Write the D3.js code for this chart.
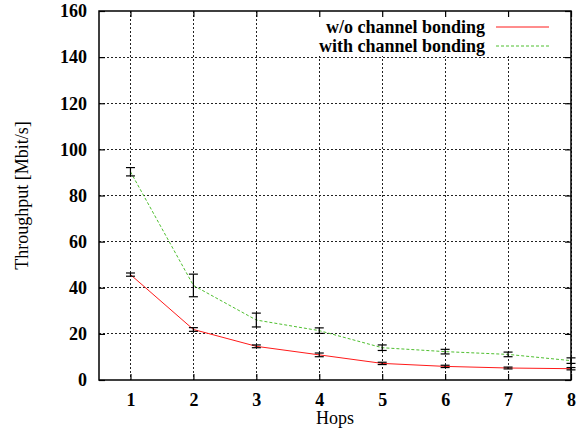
<!DOCTYPE html>
<html>
<head>
<meta charset="utf-8">
<script src="https://cdn.jsdelivr.net/npm/d3@7"></script>
<style>
  html, body { margin: 0; padding: 0; background: #fff; }
  svg { display: block; }
  svg text { font-family: "Liberation Serif", "Times New Roman", Times, "DejaVu Serif", serif; }
</style>
</head>
<body>
<svg id="chart" width="584" height="444"></svg>
<script>
// Throughput vs. number of hops, with and without channel bonding
const hops = [1, 2, 3, 4, 5, 6, 7, 8];
const withoutBonding = [45.7, 21.9, 14.6, 10.9, 7.2, 5.9, 5.2, 4.9];
const withoutBondingErr = [0.7, 0.8, 0.6, 0.8, 0.5, 0.5, 0.4, 0.5];
const withBonding = [90.3, 41.0, 26.0, 21.4, 14.0, 12.3, 11.1, 8.4];
const withBondingErr = [1.8, 4.9, 3.0, 1.2, 1.2, 1.0, 1.0, 1.2];
const xTicks = [1, 2, 3, 4, 5, 6, 7, 8];
const yTicks = [0, 20, 40, 60, 80, 100, 120, 140, 160];
const seriesNames = ["w/o channel bonding", "with channel bonding"];

const svg = d3.select("#chart");
const m = { left: 99, right: 571, top: 11, bottom: 380 };
const font = "\"Liberation Serif\", \"Times New Roman\", Times, serif";

const x = d3.scaleLinear().domain([0.5, 8]).range([m.left, m.right]);
const y = d3.scaleLinear().domain([0, 160]).range([m.bottom, m.top]);

const series = [
  { name: seriesNames[0], vals: withoutBonding, err: withoutBondingErr, color: "#ff1a1a", dash: null },
  { name: seriesNames[1], vals: withBonding, err: withBondingErr, color: "#4fbf2f", dash: "3,2" }
];

// grid
const grid = svg.append("g").attr("stroke", "#222").attr("stroke-width", 1)
  .attr("stroke-dasharray", "2,2").attr("shape-rendering", "crispEdges");
grid.selectAll(".gx").data(xTicks).join("line")
  .attr("x1", d => x(d)).attr("x2", d => x(d))
  .attr("y1", m.top).attr("y2", m.bottom);
grid.selectAll(".gy").data(yTicks.filter(d => d > 0 && d < 160)).join("line")
  .attr("x1", m.left).attr("x2", m.right)
  .attr("y1", d => y(d)).attr("y2", d => y(d));

// key background
svg.append("rect").attr("x", 300).attr("y", m.top + 1)
  .attr("width", m.right - 300 - 1).attr("height", 44).attr("fill", "#fff");

// lines
const line = d3.line().x((d, i) => x(hops[i])).y(d => y(d));
series.forEach(s => {
  svg.append("path").datum(s.vals)
    .attr("d", line).attr("fill", "none")
    .attr("stroke", s.color).attr("stroke-width", 1)
    .attr("stroke-dasharray", s.dash);
});

// error bars
const cap = 4.5;
series.forEach(s => {
  const g = svg.append("g").attr("stroke", "#000").attr("stroke-width", 1.2);
  s.vals.forEach((v, i) => {
    const cx = x(hops[i]);
    const lo = y(v - s.err[i]), hi = y(v + s.err[i]);
    g.append("line").attr("x1", cx).attr("x2", cx).attr("y1", lo).attr("y2", hi);
    g.append("line").attr("x1", cx - cap).attr("x2", cx + cap).attr("y1", lo).attr("y2", lo);
    g.append("line").attr("x1", cx - cap).attr("x2", cx + cap).attr("y1", hi).attr("y2", hi);
  });
});

// axes with inward ticks, mirrored on top and right
const tl = 6;
const axB = d3.axisBottom(x).tickValues(xTicks).tickSize(-tl).tickPadding(13).tickFormat(d3.format("d"));
const axT = d3.axisTop(x).tickValues(xTicks).tickSize(-tl).tickFormat("");
const axL = d3.axisLeft(y).tickValues(yTicks).tickSize(-tl).tickPadding(12).tickFormat(d3.format("d"));
const axR = d3.axisRight(y).tickValues(yTicks).tickSize(-tl).tickFormat("");

function styleAxis(g) {
  g.attr("font-family", null).attr("font-size", null);
  g.select(".domain").remove();
  g.selectAll(".tick line").attr("stroke", "#000").attr("stroke-width", 1.2);
  g.selectAll("text").style("font-family", font).style("font-size", "18px")
    .style("font-weight", "bold").attr("fill", "#000");
}
svg.append("g").attr("transform", `translate(0,${m.bottom})`).call(axB).call(styleAxis);
svg.append("g").attr("transform", `translate(0,${m.top})`).call(axT).call(styleAxis);
svg.append("g").attr("transform", `translate(${m.left},0)`).call(axL).call(styleAxis);
svg.append("g").attr("transform", `translate(${m.right},0)`).call(axR).call(styleAxis);

// frame
svg.append("rect").attr("x", m.left).attr("y", m.top)
  .attr("width", m.right - m.left).attr("height", m.bottom - m.top)
  .attr("fill", "none").attr("stroke", "#000").attr("stroke-width", 1.5);

// axis titles
svg.append("text").attr("x", (m.left + m.right) / 2).attr("y", 424)
  .attr("text-anchor", "middle").style("font-family", font).style("font-size", "18px")
  .text("Hops");
svg.append("text")
  .attr("transform", `translate(28,${(m.top + m.bottom) / 2}) rotate(-90)`)
  .attr("text-anchor", "middle").style("font-family", font).style("font-size", "18px")
  .text("Throughput [Mbit/s]");

// key
series.forEach((s, i) => {
  const ky = 27 + i * 19;
  svg.append("text").attr("x", 485).attr("y", ky).attr("dy", "0.35em")
    .attr("text-anchor", "end").style("font-family", font).style("font-size", "18px")
    .style("font-weight", "bold").text(s.name);
  svg.append("line").attr("x1", 496).attr("x2", 549).attr("y1", ky).attr("y2", ky)
    .attr("stroke", s.color).attr("stroke-width", 1).attr("stroke-dasharray", s.dash);
});
</script>
</body>
</html>
